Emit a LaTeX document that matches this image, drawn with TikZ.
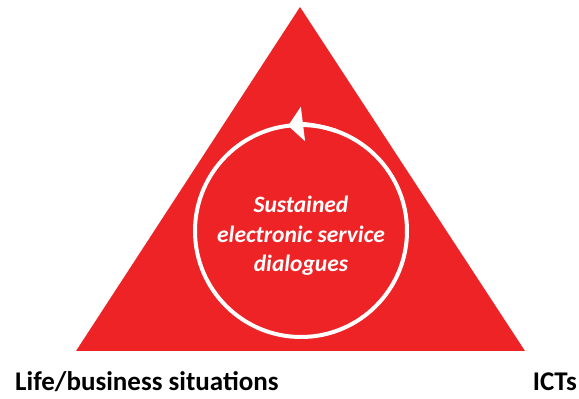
\documentclass[tikz,border=0pt]{standalone}
\usepackage{fontspec}
\setmainfont{Carlito}
\usepackage{xcolor}
\usetikzlibrary{arrows.meta,positioning,calc}

\definecolor{trired}{RGB}{238,35,38}

\begin{document}
\begin{tikzpicture}[x=1pt,y=1pt,
font=\fontsize{27}{30}\selectfont\bfseries]

\tikzstyle{loop circle}=[circle, draw=white, line width=4pt, outer sep=0pt,
minimum size=212pt]

\tikzstyle{loop text}=[text=white, align=center, inner sep=0pt,
font=\fontsize{23.5}{29.5}\selectfont\bfseries\itshape]

\tikzstyle{corner label}=[inner sep=0pt, text=black]

\useasboundingbox (0,0) rectangle (579,399);

%triangle
\coordinate (apex) at (300,392);
\coordinate (left) at (76,48);
\coordinate (right) at (525,48);
\fill[trired] (apex) -- (left) -- (right) -- cycle;

%service dialogue loop
\node[loop circle]
(dialogue) at (301,168)
{};

\node[loop text]
(dialoguetext) at (301,163)
{Sustained\\electronic service\\dialogues};

\draw[white, line width=4pt, -{Triangle[width=34pt,length=15pt]}]
(dialogue.70) arc[start angle=70, end angle=97, radius=106pt];

%labels
\node[corner label, anchor=base west]
(life) at (15,8)
{Life/business situations};

\node[corner label, anchor=base east]
(icts) at (577,8)
{ICTs};

\end{tikzpicture}
\end{document}
